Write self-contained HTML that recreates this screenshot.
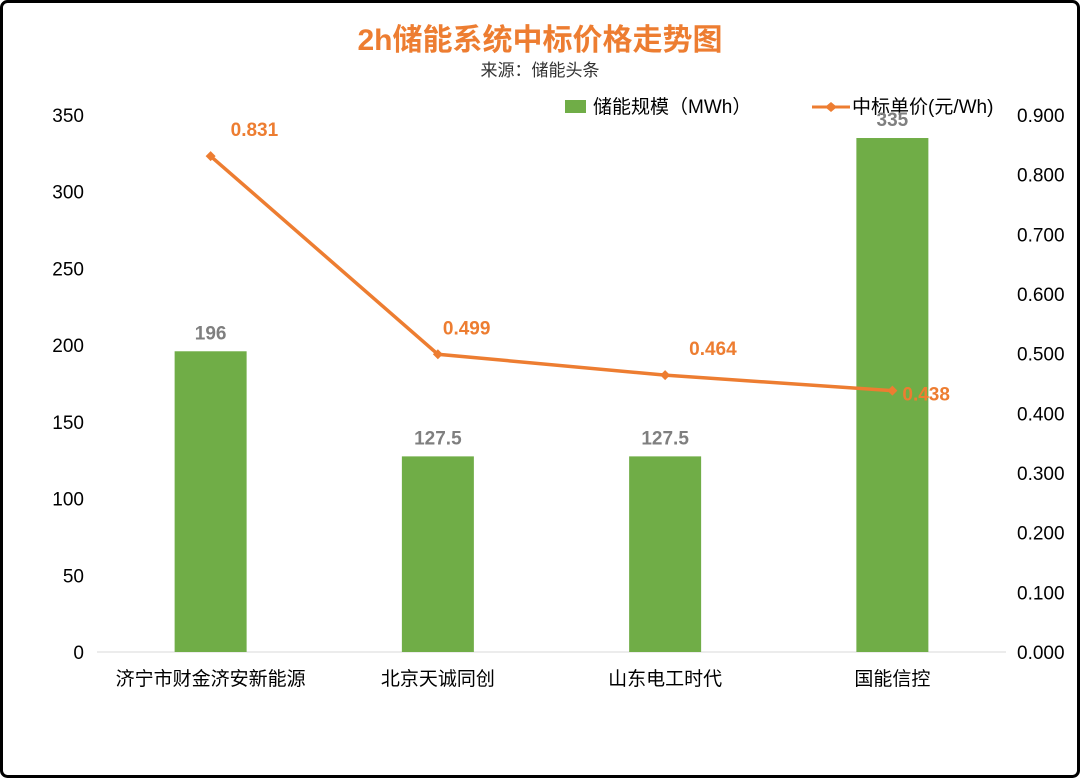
<!DOCTYPE html>
<html><head><meta charset="utf-8"><style>
body{margin:0;background:#fff}
svg{display:block;font-family:"Liberation Sans","Noto Sans CJK SC",sans-serif}
</style></head><body>
<svg id="chart" width="1080" height="778" viewBox="0 0 1080 778">
<rect x="1.5" y="1.5" width="1077" height="775" rx="6" fill="#fff" stroke="#000" stroke-width="3"/>
<text x="540" y="50" text-anchor="middle" font-size="30" font-weight="bold" fill="#ed7d31">2h储能系统中标价格走势图</text>
<text x="540" y="76" text-anchor="middle" font-size="17" fill="#333">来源：储能头条</text>
<g>
<rect x="565" y="100" width="21" height="13" fill="#70ad47"/>
<text x="593" y="113" font-size="19" fill="#000">储能规模（MWh）</text>
<line x1="812" y1="107" x2="850" y2="107" stroke="#ed7d31" stroke-width="3"/>
<path d="M825 107 l6 -5 l6 5 l-6 5z" fill="#ed7d31"/>
<text x="852" y="113" font-size="19" fill="#000">中标单价(元/Wh)</text>
</g>
<g id="axes"></g><g id="bars"></g><g id="line"></g>
</svg>
<script>
const categories=["济宁市财金济安新能源","北京天诚同创","山东电工时代","国能信控"];
const capacity=[196,127.5,127.5,335];
const capacityLabels=["196","127.5","127.5","335"];
const price=[0.831,0.499,0.464,0.438];
const leftTicks=[0,50,100,150,200,250,300,350];
const rightTicks=[0,0.1,0.2,0.3,0.4,0.5,0.6,0.7,0.8,0.9];
const NS="http://www.w3.org/2000/svg";
const x0=97,x1=1006,yB=652,yT=115;
const yL=v=>yB-(v/350)*(yB-yT);
const yR=v=>yB-(v/0.9)*(yB-yT);
const xC=i=>x0+(i+0.5)*(x1-x0)/categories.length;
function mk(tag,attrs,parent,text){const e=document.createElementNS(NS,tag);for(const k in attrs)e.setAttribute(k,attrs[k]);if(text!==undefined)e.textContent=text;document.getElementById(parent).appendChild(e);return e;}
const ax=mk("line",{x1:x0,y1:yB,x2:x1,y2:yB,stroke:"#d9d9d9","stroke-width":1},"axes");


leftTicks.forEach(v=>{const t=mk("text",{x:84,y:yL(v)+7,"text-anchor":"end","font-size":19,fill:"#000"},"axes",String(v));

});
rightTicks.forEach(v=>{const t=mk("text",{x:1017,y:yR(v)+7,"font-size":19,fill:"#000"},"axes",v.toFixed(3));

});
categories.forEach((c,i)=>{const t=mk("text",{x:xC(i),y:685,"text-anchor":"middle","font-size":19,fill:"#000"},"axes",c);

});
const bw=72;
capacity.forEach((v,i)=>{const r=mk("rect",{x:xC(i)-bw/2,y:yL(v),width:bw,height:yB-yL(v),fill:"#70ad47"},"bars");


const t=mk("text",{x:xC(i),y:yL(v)-12,"text-anchor":"middle","font-size":19,"font-weight":"bold",fill:"#7f7f7f"},"bars",capacityLabels[i]);

});
const pts=price.map((v,i)=>xC(i)+","+yR(v)).join(" ");
const pl=mk("polyline",{points:pts,fill:"none",stroke:"#ed7d31","stroke-width":3.5},"line");


price.forEach((v,i)=>{const x=xC(i),y=yR(v);
const m=mk("path",{d:`M${x-5} ${y} l5 -5 l5 5 l-5 5z`,fill:"#ed7d31"},"line");


const last=i===price.length-1;
const t=mk("text",{x:last?x+10:x+5,y:last?y+10:y-20,"text-anchor":last?"start":"start","font-size":19,"font-weight":"bold",fill:"#ed7d31"},"line",v.toFixed(3));
if(i===0)t.setAttribute("x",x+20);
if(i===2)t.setAttribute("x",x+24);

});
</script>
</body></html>
